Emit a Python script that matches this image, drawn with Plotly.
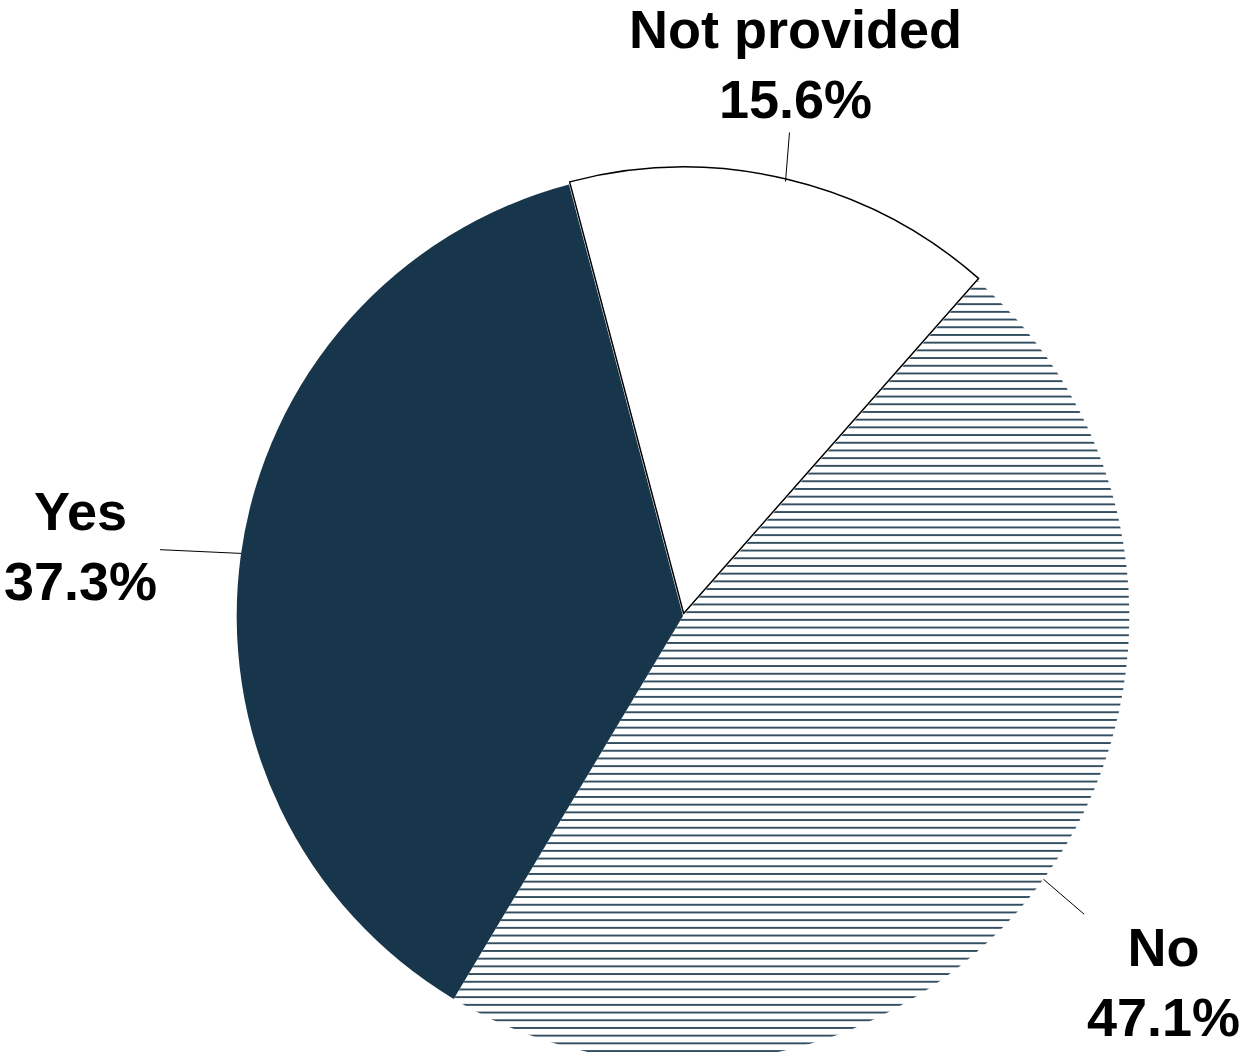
import math
import plotly.graph_objects as go

# ---- data ----
categories = ["Not provided", "No", "Yes"]
shares = [15.6, 47.1, 37.3]
pct_labels = ["15.6%", "47.1%", "37.3%"]

# ---- style / layout constants ----
W, H = 1240, 1066          # slightly taller than the window: the pie is cut at the bottom
CX, CY = 683, 616          # pie centre in pixels (from top-left)
HALF = 449                 # half size of pie domain box in pixels
PULL = [0.006, 0, 0]
ROT = -14.8
NAVY = "#17364B"
FONT = dict(family="Liberation Sans, Arial, sans-serif", size=54, color="black")
# text-box centres (pixels from top-left) for each label
TEXT_POS = {"Not provided": (795, 64), "No": (1163, 982), "Yes": (80, 546)}

dom_x = [(CX - HALF) / W, (CX + HALF) / W]
dom_y = [1 - (CY + HALF) / H, 1 - (CY - HALF) / H]

fig = go.Figure(go.Pie(
    labels=categories,
    values=shares,
    sort=False,
    direction="clockwise",
    rotation=ROT,
    pull=PULL,
    textinfo="none",
    hoverinfo="skip",
    domain=dict(x=dom_x, y=dom_y),
    marker=dict(
        colors=["white", "white", NAVY],
        line=dict(color=["black", "white", NAVY], width=[1.5, 0, 0]),
        pattern=dict(shape=["", "-", ""], fgcolor=NAVY, bgcolor="white",
                     fgopacity=1, size=7.7, solidity=0.22, fillmode="overlay"),
    ),
    showlegend=False,
))

# leader lines + labels from slice mid-angles
R = 2 * HALF / (2 + 2 * max(PULL))
total = sum(shares)
ang = ROT
annotations = []
for cat, v, pl in zip(categories, shares, pct_labels):
    mid = ang + 360 * v / total / 2
    ang += 360 * v / total
    a = math.radians(mid)
    hx = CX + R * math.sin(a)
    hy = CY - R * math.cos(a)
    tx, ty = TEXT_POS[cat]
    annotations.append(dict(
        x=hx / W, y=1 - hy / H, xref="paper", yref="paper",
        text=f"<b>{cat}</b><br><b>{pl}</b>",
        showarrow=True, arrowhead=0, arrowwidth=1, arrowcolor="black",
        ax=tx - hx, ay=ty - hy, standoff=0, startstandoff=2,
        font=FONT, align="center",
    ))

fig.update_layout(
    width=W, height=H,
    margin=dict(l=0, r=0, t=0, b=0),
    paper_bgcolor="white", plot_bgcolor="white",
    annotations=annotations,
)

fig.write_html(
    "out.html",
    config={"displayModeBar": False},
    post_script="document.body.style.margin='0';document.body.style.overflow='hidden';"
                "document.documentElement.style.overflow='hidden';",
)
